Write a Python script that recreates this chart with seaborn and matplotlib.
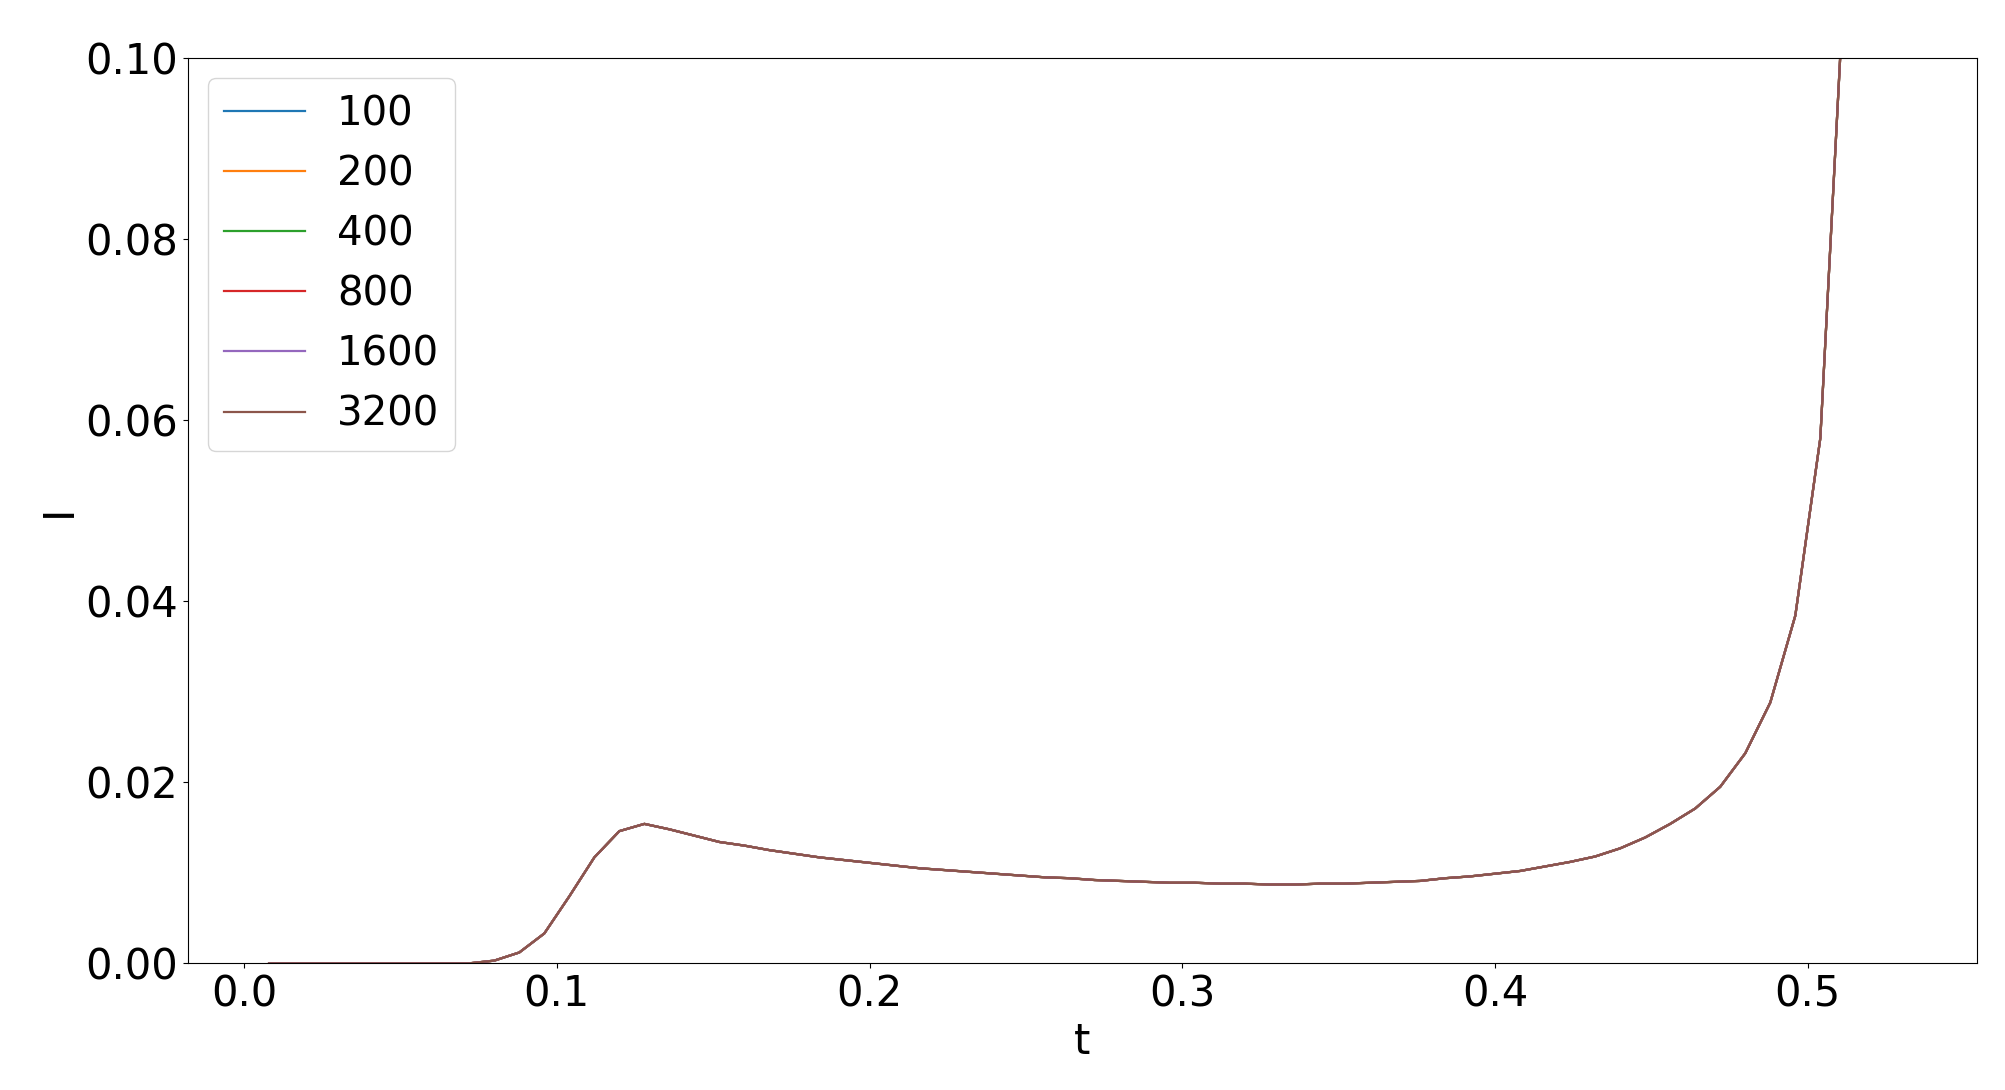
import seaborn as sns
import matplotlib.pyplot as plt
import pandas as pd
import numpy as np

# grid sizes (legend entries) -- all curves lie on top of each other
sizes = ["100", "200", "400", "800", "1600", "3200"]

t = [0.008, 0.016, 0.024, 0.032, 0.040, 0.048, 0.056, 0.064, 0.072, 0.080,
     0.088, 0.096, 0.104, 0.112, 0.120, 0.128, 0.136, 0.144, 0.152, 0.160,
     0.168, 0.176, 0.184, 0.192, 0.200, 0.208, 0.216, 0.224, 0.232, 0.240,
     0.248, 0.256, 0.264, 0.272, 0.280, 0.288, 0.296, 0.304, 0.312, 0.320,
     0.328, 0.336, 0.344, 0.352, 0.360, 0.368, 0.376, 0.384, 0.392, 0.400,
     0.408, 0.416, 0.424, 0.432, 0.440, 0.448, 0.456, 0.464, 0.472, 0.480,
     0.488, 0.496, 0.504, 0.512, 0.520, 0.528]

I = [0.0, 0.0, 0.0, 0.0, 0.0, 0.0, 0.0, 0.0, 0.0, 0.0003,
     0.0012, 0.0033, 0.0074, 0.0117, 0.0146, 0.0154, 0.0148, 0.0141, 0.0134, 0.0130,
     0.0125, 0.0121, 0.0117, 0.0114, 0.0111, 0.0108, 0.0105, 0.0103, 0.0101, 0.0099,
     0.0097, 0.0095, 0.0094, 0.0092, 0.0091, 0.0090, 0.0089, 0.0089, 0.0088, 0.0088,
     0.0087, 0.0087, 0.0088, 0.0088, 0.0089, 0.0090, 0.0091, 0.0094, 0.0096, 0.0099,
     0.0102, 0.0107, 0.0112, 0.0118, 0.0127, 0.0139, 0.0154, 0.0171, 0.0195, 0.0232,
     0.0288, 0.0384, 0.0580, 0.111, 0.26, 0.9]

frames = []
for n in sizes:
    frames.append(pd.DataFrame({"t": t, "I": I, "N": n}))
df = pd.concat(frames, ignore_index=True)

plt.rcParams['font.family'] = ['DejaVu Sans']
fig, ax = plt.subplots(figsize=(20.06, 10.9), dpi=100)
plt.subplots_adjust(left=0.0936, right=0.9854, bottom=0.1162, top=0.947)

sns.lineplot(data=df, x="t", y="I", hue="N", hue_order=sizes,
             palette="tab10", linewidth=1.6, ax=ax)

ax.set_ylim(0, 0.1)
ax.set_xlabel("t", fontsize=30)
ax.set_ylabel("I", fontsize=30)
ax.tick_params(labelsize=30)

handles, labels = ax.get_legend_handles_labels()
ax.legend(handles, labels, fontsize=29, loc="upper left")

plt.savefig("out.png", dpi=100)
